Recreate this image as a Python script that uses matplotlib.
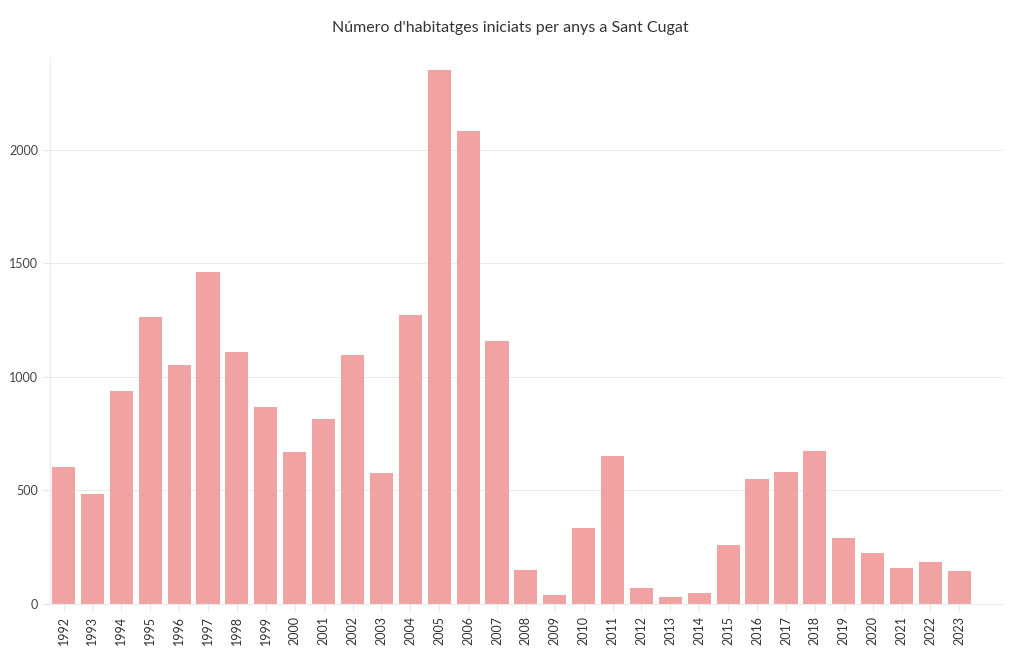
import matplotlib
matplotlib.use("Agg")
import matplotlib.pyplot as plt

plt.rcParams['font.family'] = ['Lato', 'DejaVu Sans']

years = [str(y) for y in range(1992, 2024)]
habitatges = [605, 484, 936, 1265, 1054, 1463, 1110, 868, 670, 816, 1098, 577, 1273,
              2353, 2084, 1159, 150, 40, 335, 652, 70, 31, 48, 260, 551, 581, 674,
              291, 225, 159, 185, 145]

fig = plt.figure(figsize=(10.2, 6.5), dpi=100)
ax = fig.add_axes([0.049, 0.0708, 0.934, 0.84])

ax.bar(range(len(years)), habitatges, width=0.8, color='#f1a3a3', zorder=2)

ax.set_xticks(range(len(years)))
ax.set_xticklabels(years, rotation=90, fontsize=9, color='#333333')
ax.set_xlim(-0.47, 32.5)
ax.set_ylim(0, 2405)
ax.set_yticks([0, 500, 1000, 1500, 2000])
ax.tick_params(axis='y', labelsize=9, labelcolor='#444444', color='#e6e6e6', length=5)
ax.tick_params(axis='x', color='#e6e6e6', length=5)
ax.grid(axis='y', color='#ececec', linewidth=0.8, zorder=0)

for s in ['top', 'right']:
    ax.spines[s].set_visible(False)
ax.spines['left'].set_color('#ececec')
ax.spines['bottom'].set_color('#ececec')

fig.text(0.5, 0.957, "Número d'habitatges iniciats per anys a Sant Cugat",
         ha='center', va='center', fontsize=11.5, color='#333333')

fig.savefig('out.png', dpi=100)
